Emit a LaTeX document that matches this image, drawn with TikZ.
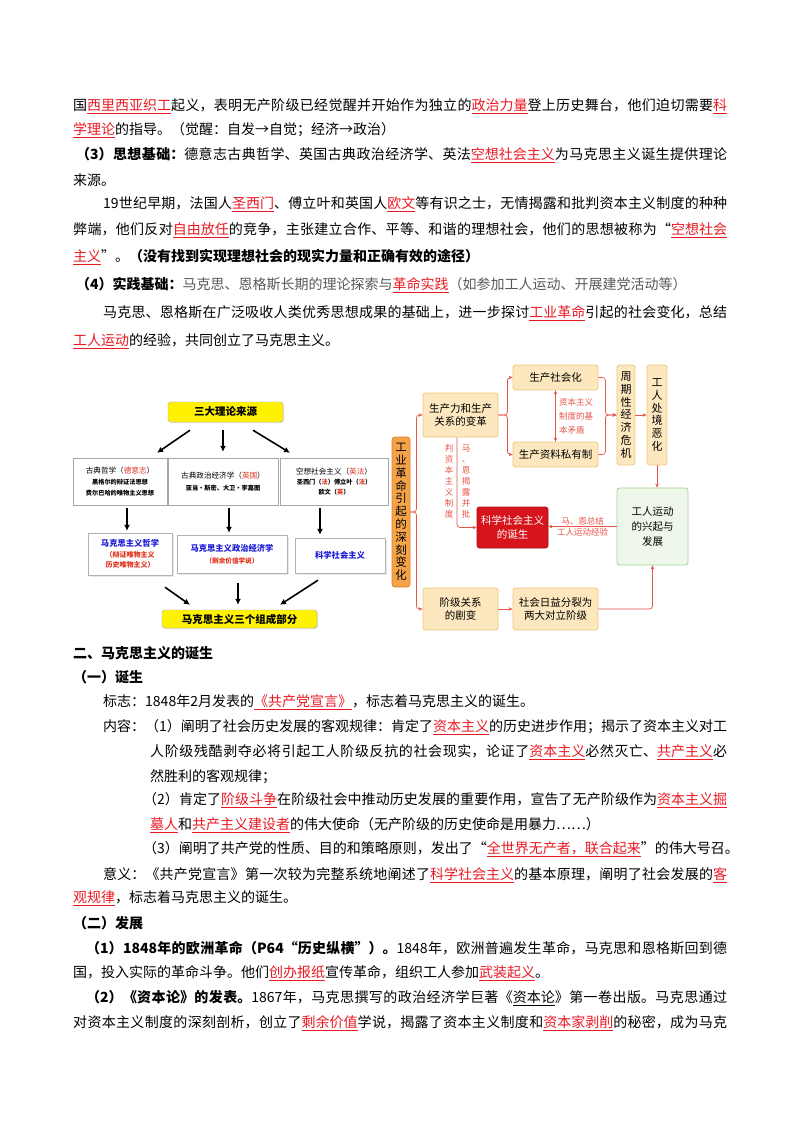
\documentclass[tikz,border=0pt]{standalone}
\usepackage{fontspec}
\setmainfont{Noto Sans CJK SC}
\usetikzlibrary{arrows.meta,shadows}
\XeTeXlinebreaklocale "zh"
\XeTeXlinebreakskip = 0pt plus 3pt
\definecolor{keyred}{RGB}{235,25,35}
\definecolor{linered}{RGB}{232,84,72}
\definecolor{boxbeige}{RGB}{252,231,190}
\definecolor{boxedge}{RGB}{240,200,130}
\definecolor{indorange}{RGB}{244,163,72}
\definecolor{indedge}{RGB}{225,130,40}
\definecolor{boxgreen}{RGB}{238,247,234}
\definecolor{edgegreen}{RGB}{160,210,145}
\definecolor{birthred}{RGB}{214,20,28}
\definecolor{titleblue}{RGB}{25,25,215}
\definecolor{subred}{RGB}{225,50,30}
\newcommand\kw[1]{\textcolor{keyred}{\underline{#1}}}
\newcommand\fline[2]{\parbox{#1pt}{\parindent=0pt\parfillskip=0pt\relax #2}}
\newcommand\sub[1]{{\fontsize{6.2}{7.5}\selectfont\bfseries #1}}
\newcommand\rd[1]{\textcolor{subred}{#1}}

\begin{document}
\begin{tikzpicture}[x=1pt,y=-1pt,
  txt/.style={anchor=west,inner sep=0,font=\fontsize{14}{17}\selectfont},
  ybox/.style={draw=gray!70,fill=yellow,rounded corners=3pt,inner sep=0,
    font=\bfseries\fontsize{10.5}{12}\selectfont,
    drop shadow={shadow xshift=1pt,shadow yshift=-1pt,fill=gray!50}},
  wbox/.style={draw=gray!70,fill=white,inner sep=0,align=center,
    font=\fontsize{7.6}{12}\selectfont},
  mbox/.style={draw=gray!60,fill=white,inner sep=0,align=center,
    font=\bfseries\fontsize{8.3}{12}\selectfont,text=titleblue,
    drop shadow={shadow xshift=1.5pt,shadow yshift=-1.5pt,fill=gray!35}},
  bigarrow/.style={line width=1.6pt,-{Latex[length=6pt,width=6pt]}},
  rbox/.style={draw=boxedge,fill=boxbeige,rounded corners=2.5pt,line width=0.8pt,
    inner sep=0,align=center,font=\fontsize{10.5}{13}\selectfont},
  ann/.style={text=linered,inner sep=1pt,align=center,font=\fontsize{8.5}{11}\selectfont},
  redarrow/.style={draw=linered,line width=0.7pt,rounded corners=3pt,
    -{Stealth[length=4pt,width=3.5pt]}}]
\fill[white] (0,0) rectangle (800,1132);
\useasboundingbox (0,0) rectangle (800,1132);

% text above the diagram
\node[txt] (t1) at (73,106) {\fline{654}{国\kw{西里西亚织工}起义，表明无产阶级已经觉醒并开始作为独立的\kw{政治力量}登上历史舞台，他们迫切需要\kw{科}}};
\node[txt] (t2) at (73,130) {\kw{学理论}的指导。（觉醒：自发→自觉；经济→政治）};
\node[txt] (t3) at (76,155) {\fline{651}{\textbf{（3）思想基础：}德意志古典哲学、英国古典政治经济学、英法\kw{空想社会主义}为马克思主义诞生提供理论}};
\node[txt] (t4) at (73,180) {来源。};
\node[txt] (t5) at (103,204) {\fline{624}{19世纪早期，法国人\kw{圣西门}、傅立叶和英国人\kw{欧文}等有识之士，无情揭露和批判资本主义制度的种种}};
\node[txt] (t6) at (73,230) {\fline{654}{弊端，他们反对\kw{自由放任}的竞争，主张建立合作、平等、和谐的理想社会，他们的思想被称为“\kw{空想社会}}};
\node[txt] (t7) at (73,257) {\kw{主义}”。\textbf{（没有找到实现理想社会的现实力量和正确有效的途径）}};
\node[txt] (t8) at (76,285) {\textbf{（4）实践基础：}\textcolor{black!65}{马克思、恩格斯长期的理论探索与}\kw{革命实践}\textcolor{black!65}{（如参加工人运动、开展建党活动等）}};
\node[txt] (t9) at (103,313) {\fline{624}{马克思、恩格斯在广泛吸收人类优秀思想成果的基础上，进一步探讨\kw{工业革命}引起的社会变化，总结}};
\node[txt] (t10) at (73,341) {\kw{工人运动}的经验，共同创立了马克思主义。};

% left diagram
\node[ybox,minimum width=115,minimum height=20] (src) at (225.5,412) {三大理论来源};
\node[wbox,minimum width=94,minimum height=47] (phil) at (120,481.5)
  {古典哲学（\rd{德意志}）\\[-1pt]\sub{黑格尔的辩证法思想}\\[-1pt]\sub{费尔巴哈的唯物主义思想}};
\node[wbox,minimum width=110,minimum height=47] (econ) at (223,481.5)
  {古典政治经济学（\rd{英国}）\\\sub{亚当·斯密、大卫·李嘉图}};
\node[wbox,minimum width=108,minimum height=47] (utop) at (334,481.5)
  {空想社会主义（\rd{英法}）\\[-2pt]\sub{圣西门（\rd{法}）傅立叶（\rd{法}）}\\[-2pt]\sub{欧文（\rd{英}）}};
\node[mbox,minimum width=84,minimum height=42] (mphil) at (130,554)
  {马克思主义哲学\\[-1pt]{\fontsize{7}{9}\selectfont\color{subred}（辩证唯物主义}\\[-2pt]{\fontsize{7}{9}\selectfont\color{subred}历史唯物主义）}};
\node[mbox,minimum width=110,minimum height=38] (mecon) at (232,554)
  {马克思主义政治经济学\\{\fontsize{6.6}{9}\selectfont\color{subred}（剩余价值学说）}};
\node[mbox,minimum width=90,minimum height=35] (msoc) at (340,555.5) {科学社会主义};
\node[ybox,minimum width=155,minimum height=18] (parts) at (239.5,619) {马克思主义三个组成部分};

\draw[bigarrow] ([shift={(-35.5,8)}]src.south) -- ([shift={(37,-5)}]phil.north);
\draw[bigarrow] ([shift={(-2.5,8)}]src.south) -- ([shift={(0,-6)}]econ.north);
\draw[bigarrow] ([shift={(27.5,8)}]src.south) -- ([shift={(-44,-5)}]utop.north);
\draw[bigarrow] ([shift={(7,3)}]phil.south) -- ([shift={(-3,-2)}]mphil.north);
\draw[bigarrow] ([shift={(6,3)}]econ.south) -- ([shift={(-3,-2)}]mecon.north);
\draw[bigarrow] ([shift={(-14,3)}]utop.south) -- ([shift={(-20,-3)}]msoc.north);
\draw[bigarrow] ([shift={(35,12)}]mphil.south) -- ([shift={(-49.5,-5)}]parts.north);
\draw[bigarrow] ([shift={(6,10)}]mecon.south) -- ([shift={(-1.5,-5)}]parts.north);
\draw[bigarrow] ([shift={(-22,7)}]msoc.south) -- ([shift={(40.5,-5)}]parts.north);

% right diagram
\node[rbox,fill=indorange,draw=indedge,rounded corners=3pt,minimum width=18,minimum height=150,
  font=\fontsize{11.5}{12.8}\selectfont] (ind) at (401,512) {工\\业\\革\\命\\引\\起\\的\\深\\刻\\变\\化};
\node[rbox,minimum width=75,minimum height=44] (prod) at (460.5,415) {生产力和生产\\关系的变革};
\node[rbox,minimum width=85,minimum height=25] (social) at (555.5,377.5) {生产社会化};
\node[rbox,minimum width=85,minimum height=25] (priv) at (555.5,454.5) {生产资料私有制};
\node[rbox,minimum width=18,minimum height=100,font=\fontsize{11}{12.9}\selectfont] (crisis) at (626,415) {周\\期\\性\\经\\济\\危\\机};
\node[rbox,minimum width=20,minimum height=100,font=\fontsize{11}{12.8}\selectfont] (worker) at (657,415) {工\\人\\处\\境\\恶\\化};
\node[rbox,fill=boxgreen,draw=edgegreen,minimum width=71,minimum height=77,
  font=\fontsize{10.5}{15}\selectfont] (move) at (652.5,526.5) {工人运动\\的兴起与\\发展};
\node[rbox,fill=birthred,draw=birthred!80!black,text=white,minimum width=71,minimum height=41,
  font=\fontsize{10.5}{14}\selectfont] (birth) at (512.5,527.5) {科学社会主义\\的诞生};
\node[rbox,minimum width=75,minimum height=42] (klass) at (460.5,609) {阶级关系\\的剧变};
\node[rbox,minimum width=85,minimum height=42] (split) at (555.5,609) {社会日益分裂为\\两大对立阶级};
\node[ann,align=left,font=\fontsize{8.5}{14}\selectfont] (contra) at (576,416) {资本主义\\制度的基\\本矛盾};
\node[ann] (crit1) at (449,481) {判\\资\\本\\主\\义\\制\\度};
\node[ann] (crit2) at (466,481) {马\\、\\恩\\揭\\露\\并\\批};

\draw[redarrow] (ind.east) -- ++(6,0) |- (prod.west);
\draw[redarrow] (ind.east) -- ++(6,0) |- (klass.west);
\draw[redarrow] (prod.east) -- ++(9,0) |- (social.west);
\draw[redarrow] (prod.east) -- ++(9,0) |- (priv.west);
\draw[redarrow,{Stealth[length=4pt,width=3.5pt]}-{Stealth[length=4pt,width=3.5pt]}] (social.south) -- (priv.north);
\draw[redarrow] (social.east) -- ++(7,0) |- (crisis.west);
\draw[redarrow] (priv.east) -- ++(7,0) |- (crisis.west);
\draw[redarrow] (crisis.east) -- (worker.west);
\draw[redarrow] (worker.south) -- (worker.south |- move.north);
\draw[redarrow] (move.west) -- (move.west -| birth.east)
  node[ann,midway,above] {马、恩总结} node[ann,midway,below] {工人运动经验};
\draw[redarrow] ([xshift=-3.5pt]prod.south) |- (birth.west);
\draw[redarrow] (klass.east) -- (split.west);
\draw[redarrow] (split.east) -| (move.south);

% text below the diagram
\node[txt,font=\bfseries\fontsize{14}{17}\selectfont] (h1) at (73,653) {二、马克思主义的诞生};
\node[txt,font=\bfseries\fontsize{14}{17}\selectfont] (h2) at (73,677) {（一）诞生};
\node[txt] (b1) at (103,702) {标志：1848年2月发表的\kw{《共产党宣言》}，标志着马克思主义的诞生。};
\node[txt] (b2) at (103,727) {\fline{624}{内容：（1）阐明了社会历史发展的客观规律：肯定了\kw{资本主义}的历史进步作用；揭示了资本主义对工}};
\node[txt] (b3) at (150,752) {\fline{577}{人阶级残酷剥夺必将引起工人阶级反抗的社会现实，论证了\kw{资本主义}必然灭亡、\kw{共产主义}必}};
\node[txt] (b4) at (150,777) {然胜利的客观规律；};
\node[txt] (b5) at (143,800) {\fline{584}{（2）肯定了\kw{阶级斗争}在阶级社会中推动历史发展的重要作用，宣告了无产阶级作为\kw{资本主义掘}}};
\node[txt] (b6) at (150,825) {\kw{墓人}和\kw{共产主义建设者}的伟大使命（无产阶级的历史使命是用暴力……）};
\node[txt] (b7) at (143,849) {（3）阐明了共产党的性质、目的和策略原则，发出了“\kw{全世界无产者，联合起来}”的伟大号召。};
\node[txt] (b8) at (103,875) {\fline{624}{意义：《共产党宣言》第一次较为完整系统地阐述了\kw{科学社会主义}的基本原理，阐明了社会发展的\kw{客}}};
\node[txt] (b9) at (73,898) {\kw{观规律}，标志着马克思主义的诞生。};
\node[txt,font=\bfseries\fontsize{14}{17}\selectfont] (h3) at (73,923) {（二）发展};
\node[txt] (b10) at (86,948) {\fline{641}{\textbf{（1）1848年的欧洲革命（P64“历史纵横”）。}1848年，欧洲普遍发生革命，马克思和恩格斯回到德}};
\node[txt] (b11) at (73,973) {国，投入实际的革命斗争。他们\kw{创办报纸}宣传革命，组织工人参加\kw{武装起义}。};
\node[txt] (b12) at (86,998) {\fline{641}{\textbf{（2）《资本论》的发表。}1867年，马克思撰写的政治经济学巨著《\underline{资本论}》第一卷出版。马克思通过}};
\node[txt] (b13) at (73,1023) {\fline{654}{对资本主义制度的深刻剖析，创立了\kw{剩余价值}学说，揭露了资本主义制度和\kw{资本家剥削}的秘密，成为马克}};
\end{tikzpicture}
\end{document}
